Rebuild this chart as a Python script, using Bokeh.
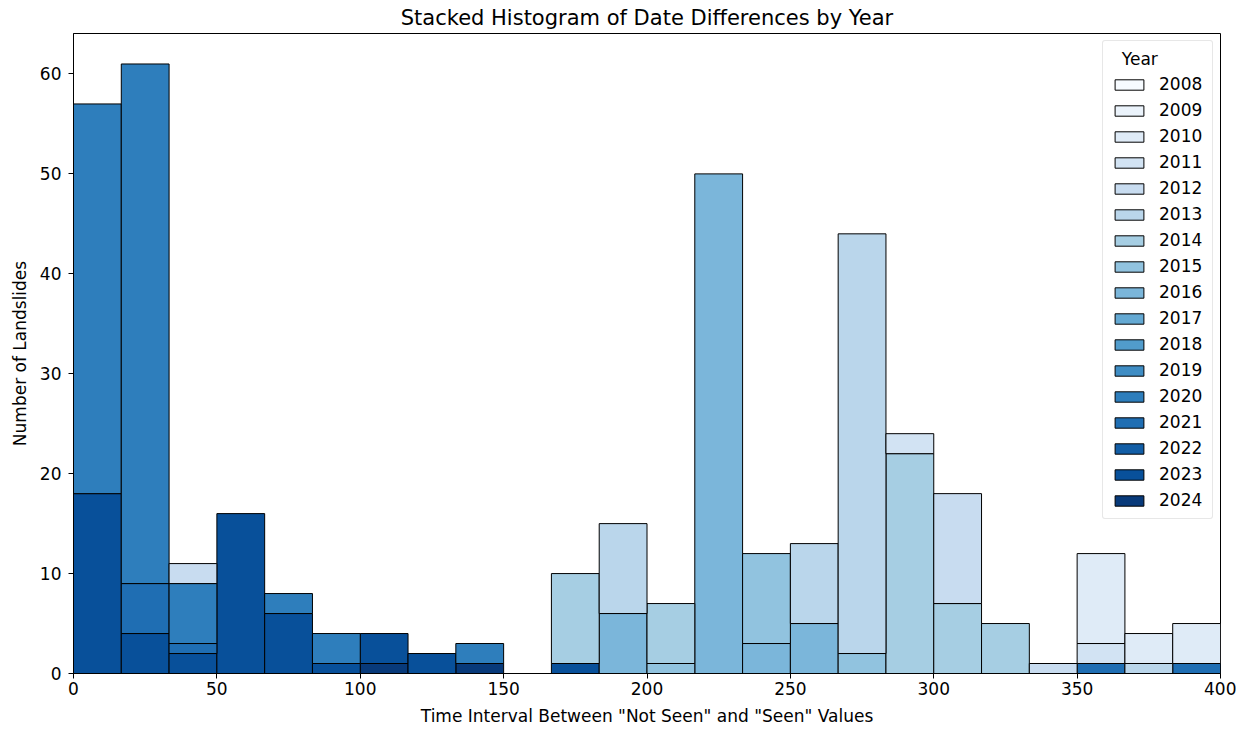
from bokeh.plotting import figure
from bokeh.models import ColumnDataSource, Range1d, Legend, LegendItem, FixedTicker
from bokeh.embed import file_html
from bokeh.resources import INLINE
import numpy as np

# ---- data -------------------------------------------------------------
years = [2008, 2009, 2010, 2011, 2012, 2013, 2014, 2015, 2016,
         2017, 2018, 2019, 2020, 2021, 2022, 2023, 2024]
n_bins = 24
x_min, x_max = 0, 400

# counts per bin (24 bins, 0..400) for each year
counts = {
    2008: [0]*24,
    2009: [0]*24,
    2010: [0,0,0,0,0,0,0,0,0,0,0,0,0,0,0,0,0,0,0,0,0,9,3,4],
    2011: [0,0,0,0,0,0,0,0,0,0,0,0,0,0,0,0,0,2,0,0,0,2,0,0],
    2012: [0,0,2,0,0,0,0,0,0,0,0,0,0,0,0,0,0,0,11,0,1,0,0,0],
    2013: [0,0,0,0,0,0,0,0,0,0,0,9,0,0,0,8,42,0,0,0,0,0,1,0],
    2014: [0,0,0,0,0,0,0,0,0,0,9,0,6,0,0,0,0,22,7,5,0,0,0,0],
    2015: [0,0,0,0,0,0,0,0,0,0,0,0,1,0,9,0,2,0,0,0,0,0,0,0],
    2016: [0,0,0,0,0,0,0,0,0,0,0,6,0,50,3,5,0,0,0,0,0,0,0,0],
    2017: [0]*24,
    2018: [0]*24,
    2019: [0]*24,
    2020: [39,52,6,0,2,3,0,0,2,0,0,0,0,0,0,0,0,0,0,0,0,0,0,0],
    2021: [0,5,1,0,0,0,0,0,0,0,0,0,0,0,0,0,0,0,0,0,0,1,0,1],
    2022: [0]*24,
    2023: [18,4,2,16,6,1,3,2,0,0,1,0,0,0,0,0,0,0,0,0,0,0,0,0],
    2024: [0,0,0,0,0,0,1,0,1,0,0,0,0,0,0,0,0,0,0,0,0,0,0,0],
}

colors = ["#f7fbff", "#ebf3fb", "#dfebf7", "#d2e3f3", "#c8dcf0", "#bad6eb",
          "#a6cee3", "#91c3df", "#7bb6da", "#64a9d3", "#519ccc", "#3f8dc4",
          "#2e7ebc", "#1f6eb3", "#125ea6", "#08509a", "#083a7a"]

x_ticks = [0, 50, 100, 150, 200, 250, 300, 350, 400]
y_ticks = [0, 10, 20, 30, 40, 50, 60]

title = "Stacked Histogram of Date Differences by Year"
x_label = 'Time Interval Between "Not Seen" and "Seen" Values'
y_label = "Number of Landslides"
legend_title = "Year"

# ---- figure -----------------------------------------------------------
FONT = "DejaVu Sans"
FS = "17px"
p = figure(width=1236, height=728, output_backend="svg", toolbar_location=None,
           x_range=Range1d(x_min, x_max), y_range=Range1d(0, 64.05),
           min_border_left=73, min_border_right=16, min_border_top=33,
           min_border_bottom=54)

p.title.text = title
p.title.align = "center"
p.title.text_font = FONT
p.title.text_font_size = "21px"
p.title.text_font_style = "normal"
p.title.text_color = "black"
p.title.offset = 0
p.title.standoff = 7

p.xgrid.visible = False
p.ygrid.visible = False
p.outline_line_color = "black"
p.outline_line_width = 1
p.background_fill_color = "white"
p.border_fill_color = "white"

for ax in (p.xaxis[0], p.yaxis[0]):
    ax.axis_label_text_font = FONT
    ax.axis_label_text_font_size = FS
    ax.axis_label_text_font_style = "normal"
    ax.axis_label_text_color = "black"
    ax.major_label_text_font = FONT
    ax.major_label_text_font_size = FS
    ax.major_label_text_color = "black"
    ax.major_tick_out = 5
    ax.major_tick_in = 0
    ax.minor_tick_out = 0
    ax.minor_tick_in = 0
    ax.axis_line_color = "black"
    ax.major_tick_line_color = "black"

p.xaxis.axis_label = x_label
p.yaxis.axis_label = y_label
p.xaxis.ticker = FixedTicker(ticks=x_ticks)
p.yaxis.ticker = FixedTicker(ticks=y_ticks)
p.xaxis.axis_label_standoff = 8
p.yaxis.axis_label_standoff = 7
p.xaxis.major_label_standoff = 3
p.yaxis.major_label_standoff = 7

edges = np.linspace(x_min, x_max, n_bins + 1)
left, right = edges[:-1], edges[1:]
total = np.sum([counts[y] for y in years], axis=0)

# stack: last year at bottom
base = np.zeros(n_bins)
renderers = {}
for yr, col in reversed(list(zip(years, colors))):
    c = np.array(counts[yr], dtype=float)
    mask = (c > 0) | (total == 0)
    src = ColumnDataSource(dict(left=left[mask], right=right[mask],
                                bottom=base[mask], top=(base + c)[mask]))
    r = p.quad(left="left", right="right", bottom="bottom", top="top",
               source=src, fill_color=col, line_color="black", line_width=1)
    renderers[yr] = r
    base = base + c

items = [LegendItem(label=str(yr), renderers=[renderers[yr]]) for yr in years]
legend = Legend(items=items, location="top_right",
                title="\u00a0\u00a0" + legend_title)
legend.title_text_font = FONT
legend.title_text_font_size = FS
legend.title_text_font_style = "normal"
legend.title_text_color = "black"
legend.title_standoff = 5
legend.label_text_font = FONT
legend.label_text_font_size = FS
legend.label_text_color = "black"
legend.glyph_width = 36
legend.glyph_height = 13
legend.label_height = 20
legend.label_width = 45
legend.spacing = 6
legend.label_standoff = 12
legend.padding = 8
legend.margin = 7
legend.border_line_color = "#d0d0d0"
legend.border_line_width = 1
legend.border_radius = 3
legend.background_fill_alpha = 0.8
p.add_layout(legend)

open("out.html", "w").write(file_html(p, INLINE))
